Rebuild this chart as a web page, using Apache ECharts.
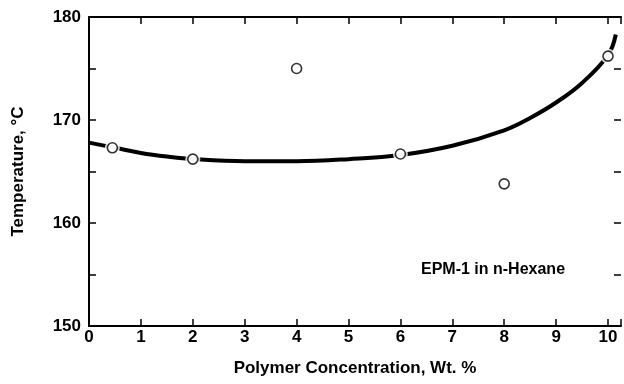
<!DOCTYPE html>
<html>
<head>
<meta charset="utf-8">
<script src="https://cdn.jsdelivr.net/npm/echarts@6/dist/echarts.min.js"></script>
<style>
html,body{margin:0;padding:0;background:#fff;}
#main{width:624px;height:384px;}
</style>
</head>
<body>
<div id="main"></div>
<script>
//测量点
var pointX = [0.45, 2, 4, 6, 8, 10];
var pointY = [167.3, 166.2, 175.0, 166.7, 163.8, 176.2];
//拟合曲线
var curveX = [0, 0.5, 1, 1.5, 2, 3, 4, 5, 6, 7, 8, 8.5, 9, 9.5, 10, 10.15];
var curveY = [167.8, 167.3, 166.8, 166.45, 166.2, 166.0, 166.0, 166.2, 166.6, 167.5, 169.0, 170.2, 171.7, 173.6, 176.3, 178.3];
var xTicks = [0, 1, 2, 3, 4, 5, 6, 7, 8, 9, 10];
var yTicks = [150, 160, 170, 180];

var font = 'Liberation Sans, Arial, sans-serif';
var curve = [], points = [];
for(var i = 0; i < curveX.length; i++) {
	curve.push([curveX[i], curveY[i]]);
}
for(var i = 0; i < pointX.length; i++) {
	points.push([pointX[i], pointY[i]]);
}

var myChart = echarts.init(document.getElementById('main'));
var option = {
	animation: false,
	grid: {
		left: 89,
		right: 2,
		top: 17,
		bottom: 58
	},
	xAxis: [{
		type: 'value',
		min: 0,
		max: 10.25,
		interval: 1,
		axisLine: { show: true, onZero: false, lineStyle: { color: '#000', width: 2 } },
		axisTick: { show: true, inside: true, length: 7, lineStyle: { color: '#000', width: 1.5 } },
		splitLine: { show: false },
		axisLabel: {
			color: '#000', fontFamily: font, fontWeight: 'bold', fontSize: 17, margin: 3,
			formatter: function(v) { return xTicks.indexOf(v) >= 0 ? v : ''; }
		},
		name: 'Polymer Concentration, Wt. %',
		nameLocation: 'middle',
		nameGap: 34,
		nameTextStyle: { color: '#000', fontFamily: font, fontWeight: 'bold', fontSize: 17 }
	}, {
		type: 'value',
		position: 'top',
		min: 0,
		max: 10.25,
		interval: 1,
		axisLine: { show: true, onZero: false, lineStyle: { color: '#000', width: 2 } },
		axisTick: { show: true, inside: true, length: 7, lineStyle: { color: '#000', width: 1.5 } },
		axisLabel: { show: false },
		splitLine: { show: false }
	}],
	yAxis: [{
		type: 'value',
		min: 150,
		max: 180,
		interval: 5,
		axisLine: { show: true, onZero: false, lineStyle: { color: '#000', width: 2 } },
		axisTick: { show: true, inside: true, length: 7, lineStyle: { color: '#000', width: 1.5 } },
		splitLine: { show: false },
		axisLabel: {
			color: '#000', fontFamily: font, fontWeight: 'bold', fontSize: 17, margin: 8,
			formatter: function(v) { return yTicks.indexOf(v) >= 0 ? v : ''; }
		},
		name: 'Temperature, °C',
		nameLocation: 'middle',
		nameGap: 62,
		nameTextStyle: { color: '#000', fontFamily: font, fontWeight: 'bold', fontSize: 17 }
	}, {
		type: 'value',
		position: 'right',
		min: 150,
		max: 180,
		interval: 5,
		axisLine: { show: false, onZero: false },
		axisTick: { show: true, inside: true, length: 7, lineStyle: { color: '#000', width: 1.5 } },
		axisLabel: { show: false },
		splitLine: { show: false }
	}],
	graphic: [{
		type: 'text',
		left: 421,
		top: 262,
		style: { text: 'EPM-1 in n-Hexane', fill: '#000', font: 'bold 16px ' + font }
	}],
	series: [{
		type: 'line',
		data: curve,
		smooth: 0.4,
		showSymbol: false,
		lineStyle: { color: '#000', width: 4 },
		z: 2
	}, {
		type: 'scatter',
		data: points,
		symbol: 'circle',
		symbolSize: 15,
		itemStyle: { color: '#fff', borderWidth: 0 },
		z: 3
	}, {
		type: 'scatter',
		data: points,
		symbol: 'circle',
		symbolSize: 10,
		itemStyle: { color: '#fff', borderColor: '#000', borderWidth: 1.6 },
		z: 4
	}]
};
myChart.setOption(option);
</script>
</body>
</html>
